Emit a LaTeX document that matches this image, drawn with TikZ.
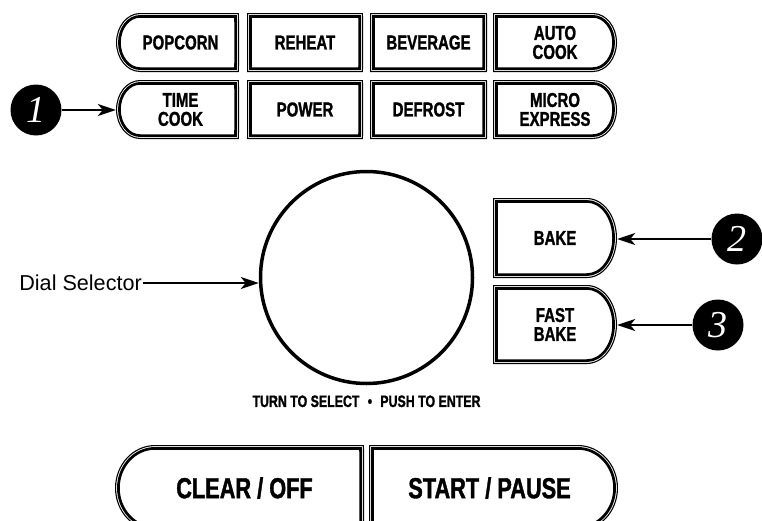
\documentclass[tikz,border=0pt]{standalone}
\usepackage{fontspec}
\setmainfont{Liberation Sans}
\newfontfamily\condfont[FakeStretch=0.75, FakeBold=1.3]{Liberation Sans}
\newfontfamily\numfont{Liberation Serif}
\usetikzlibrary{arrows.meta}
\usetikzlibrary{positioning}
\tikzset{pointer/.style = {line width = 2.3pt,
                           -{Stealth[length = 18pt, width = 12pt, inset = 5pt]}}}
\tikzset{btnouter/.style = {line width = 1.1pt}}
\tikzset{btninner/.style = {line width = 2.7pt}}
\tikzset{btntext/.style = {inner sep = 0, align = center,
                           font = \condfont\bfseries\fontsize{20}{19}\selectfont}}
\tikzset{numdot/.style = {circle, fill, inner sep = 0, minimum size = 51, text = white,
                          font = \numfont\itshape\fontsize{38}{38}\selectfont}}

% outline of a key: style, x1, y1, x2, y2, left radius, right radius, inset
\newcommand{\btnline}[8]{%
  \pgfmathsetmacro\bxa{#2+#8}\pgfmathsetmacro\bya{#3+#8}%
  \pgfmathsetmacro\bxb{#4-#8}\pgfmathsetmacro\byb{#5-#8}%
  \pgfmathsetmacro\brl{max(#6-#8,0.01)}\pgfmathsetmacro\brr{max(#7-#8,0.01)}%
  \pgfmathsetmacro\bry{(\byb-\bya)/2}%
  \draw [#1] (\bxa+\brl, \bya) -- (\bxb-\brr, \bya)
    arc [start angle = -90, end angle = 90, x radius = \brr, y radius = \bry]
    -- (\bxa+\brl, \byb)
    arc [start angle = 90, end angle = 270, x radius = \brl, y radius = \bry] -- cycle;}
% key: name, x1, y1, x2, y2, left radius, right radius, text
\newcommand{\btn}[8]{%
  \btnline{btnouter}{#2}{#3}{#4}{#5}{#6}{#7}{0.55}%
  \btnline{btninner}{#2}{#3}{#4}{#5}{#6}{#7}{3.4}%
  \node [btntext, minimum width = #4-#2, minimum height = #5-#3] (#1)
    at ({(#2+#4)/2}, {(#3+#5)/2}) {#8};}

\begin{document}
\begin{tikzpicture}[x = 1pt, y = -1pt]
    \useasboundingbox (0, 0) rectangle (762, 520);
    \clip (0, 0) rectangle (762, 520);

    \btn{popcorn}{116}{13}{239}{72}{24}{0}{\hspace{6pt}POPCORN}
    \btn{reheat}{247}{13}{363}{72}{0}{0}{REHEAT}
    \btn{beverage}{370}{13}{487}{72}{0}{0}{BEVERAGE}
    \btn{autocook}{493}{13}{617}{72}{0}{24}{AUTO\\COOK\hspace{6pt}}
    \btn{timecook}{116}{80}{239}{139}{24}{0}{\hspace{6pt}TIME\\\hspace{6pt}COOK}
    \btn{power}{247}{80}{363}{139}{0}{0}{POWER}
    \btn{defrost}{370}{80}{487}{139}{0}{0}{DEFROST}
    \btn{microexpress}{493}{80}{617}{139}{0}{24}{MICRO\\EXPRESS\hspace{4pt}}
    \btn{bake}{493}{198}{617}{278}{0}{30}{BAKE}
    \btn{fastbake}{493}{285}{617}{364}{0}{30}{FAST\\BAKE}
    \btn{clearoff}{115}{445}{364}{531}{40}{0}{\fontsize{29}{29}\selectfont\hspace{10pt}CLEAR / OFF}
    \btn{startpause}{369}{445}{618}{531}{0}{40}{\fontsize{29}{29}\selectfont START / PAUSE\hspace{8pt}}

    % dial
    \node [circle, draw, line width = 3.5pt, inner sep = 0, minimum size = 212] (dial) at (366.5, 277.5) {};
    \node [below = 10pt of dial, inner sep = 0,
           font = \condfont\bfseries\fontsize{16.5}{16.5}\selectfont] (dialhint)
      {TURN TO SELECT\enspace•\enspace PUSH TO ENTER};
    \node [anchor = east, inner sep = 1pt, font = \fontsize{21.6}{21.6}\selectfont] (dialsel)
      at (143, 283) {Dial Selector};
    \draw [pointer] (dialsel.east) -- (dialsel.east -| dial.west);

    % callouts
    \node [numdot] (num1) at (36, 110) {1};
    \node [numdot] (num2) at (737, 239) {2};
    \node [numdot] (num3) at (718, 325) {3};
    \draw [pointer] (num1.east) -- (num1.east -| timecook.west);
    \draw [pointer] (num2.west) -- (num2.west -| bake.east);
    \draw [pointer] (num3.west) -- (num3.west -| fastbake.east);
\end{tikzpicture}
\end{document}
